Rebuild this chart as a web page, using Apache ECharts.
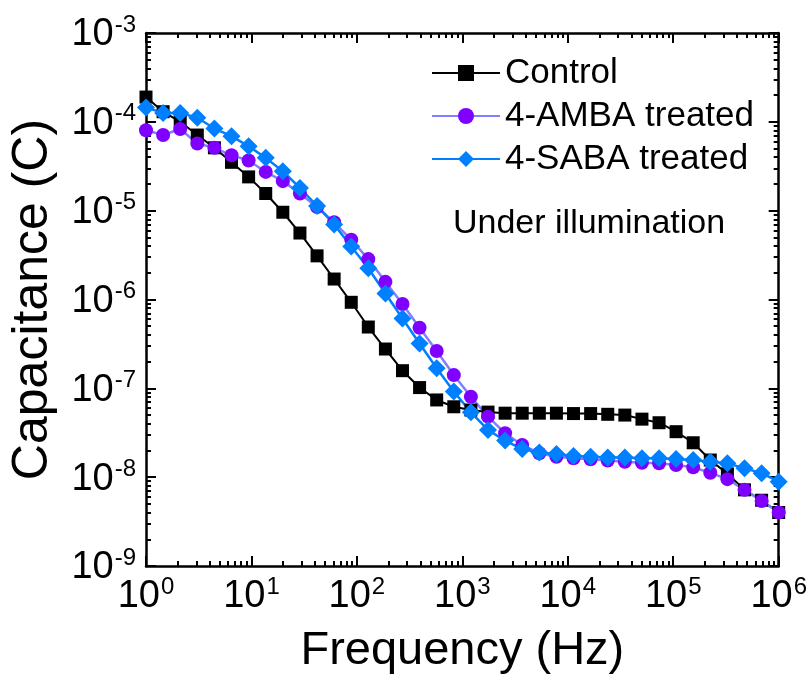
<!DOCTYPE html>
<html>
<head>
<meta charset="utf-8">
<script src="https://cdn.jsdelivr.net/npm/echarts@6/dist/echarts.min.js"></script>
<style>html,body{margin:0;padding:0;background:#fff}#c{width:810px;height:688px}</style>
</head>
<body>
<div id="c"></div>
<script>
const frequency = [1, 1.453, 2.111, 3.066, 4.454, 6.471, 9.402, 13.66, 19.84, 28.83, 41.89, 60.85, 88.41, 128.3, 186.4, 270.6, 393.0, 571.1, 829.7, 1205, 1751, 2544, 3696, 5370, 7801, 11334, 16466, 23922, 34754, 50491, 73354, 106420, 154620, 224550, 326290, 474020, 688660, 1000000];
const control = [1.9e-4, 1.3e-4, 1.0e-4, 7.1e-5, 5.1e-5, 3.5e-5, 2.4e-5, 1.56e-5, 9.6e-6, 5.6e-6, 3.1e-6, 1.7e-6, 9.3e-7, 4.9e-7, 2.77e-7, 1.58e-7, 1.02e-7, 7.4e-8, 6.2e-8, 5.7e-8, 5.4e-8, 5.25e-8, 5.25e-8, 5.25e-8, 5.25e-8, 5.2e-8, 5.2e-8, 5.1e-8, 5.0e-8, 4.5e-8, 4.1e-8, 3.25e-8, 2.44e-8, 1.56e-8, 1.09e-8, 7.2e-9, 5.5e-9, 4.0e-9];
const amba = [8.05e-5, 7.1e-5, 8.3e-5, 5.7e-5, 5.1e-5, 4.2e-5, 3.67e-5, 2.73e-5, 2.15e-5, 1.56e-5, 1.1e-5, 7.4e-6, 4.7e-6, 2.85e-6, 1.58e-6, 8.9e-7, 4.8e-7, 2.63e-7, 1.41e-7, 8.05e-8, 4.8e-8, 3.12e-8, 2.3e-8, 1.86e-8, 1.7e-8, 1.63e-8, 1.59e-8, 1.54e-8, 1.49e-8, 1.45e-8, 1.43e-8, 1.37e-8, 1.29e-8, 1.12e-8, 9.5e-9, 7.2e-9, 5.4e-9, 4.0e-9];
const saba = [1.45e-4, 1.26e-4, 1.26e-4, 1.11e-4, 8.4e-5, 6.9e-5, 5.3e-5, 3.93e-5, 2.78e-5, 1.8e-5, 1.13e-5, 7.0e-6, 3.95e-6, 2.25e-6, 1.17e-6, 6.1e-7, 3.2e-7, 1.68e-7, 9.2e-8, 5.37e-8, 3.4e-8, 2.58e-8, 2.07e-8, 1.89e-8, 1.82e-8, 1.73e-8, 1.7e-8, 1.67e-8, 1.66e-8, 1.63e-8, 1.63e-8, 1.6e-8, 1.56e-8, 1.49e-8, 1.43e-8, 1.26e-8, 1.11e-8, 8.9e-9];
const seriesNames = ['Control', '4-AMBA treated', '4-SABA treated'];
const xMajor = [1, 10, 100, 1000, 10000, 100000, 1000000];
const yMajor = [1e-9, 1e-8, 1e-7, 1e-6, 1e-5, 1e-4, 1e-3];
const annotation = 'Under illumination';
const xTitle = 'Frequency (Hz)';
const yTitle = 'Capacitance (C)';

function minorsOf(majors) {
  const out = [];
  for (let k = 0; k < majors.length - 1; k++) {
    for (let m = 2; m <= 9; m++) out.push(majors[k] * m);
  }
  return out;
}
const xMinor = minorsOf(xMajor);
const yMinor = minorsOf(yMajor);

const FONT = 'Liberation Sans, Arial, sans-serif';
const rich = {
  b: { fontFamily: FONT, fontSize: 38, color: '#000', lineHeight: 42, verticalAlign: 'bottom' },
  s: { fontFamily: FONT, fontSize: 24, color: '#000', lineHeight: 42, verticalAlign: 'bottom', padding: [0, 0, 17, 1] }
};
function expLabel(v) {
  const e = Math.round(Math.log10(v));
  return '{b|10}{s|' + e + '}';
}
const lineStyleAxis = { color: '#000', width: 2.5 };

function makeAxis(pos, isX, major, minor, min, max, withLabels, withLine) {
  return {
    type: 'log', logBase: 10, min: min, max: max, position: pos,
    axisLine: { show: withLine, onZero: false, lineStyle: lineStyleAxis },
    axisTick: { show: true, inside: true, length: major ? 10 : 5, lineStyle: { color: '#000', width: 2 },
      customValues: major || minor },
    axisLabel: withLabels ? { show: true, customValues: major, formatter: expLabel, rich: rich, margin: isX ? 8 : 10 } : { show: false },
    splitLine: { show: false },
    minorTick: { show: false }
  };
}

const chart = echarts.init(document.getElementById('c'), null, { renderer: 'canvas' });
const xAxes = [
  Object.assign(makeAxis('bottom', true, xMajor, null, 1, 1e6, true, true), {
    name: xTitle, nameLocation: 'middle', nameGap: 62,
    nameTextStyle: { fontFamily: FONT, fontSize: 47, color: '#000' }
  }),
  makeAxis('bottom', true, null, xMinor, 1, 1e6, false, false),
  makeAxis('top', true, xMajor, null, 1, 1e6, false, true),
  makeAxis('top', true, null, xMinor, 1, 1e6, false, false)
];
const yAxes = [
  Object.assign(makeAxis('left', false, yMajor, null, 1e-9, 1e-3, true, true), {
    name: yTitle, nameLocation: 'middle', nameGap: 88,
    nameTextStyle: { fontFamily: FONT, fontSize: 50, color: '#000' }
  }),
  makeAxis('left', false, null, yMinor, 1e-9, 1e-3, false, false),
  makeAxis('right', false, yMajor, null, 1e-9, 1e-3, false, true),
  makeAxis('right', false, null, yMinor, 1e-9, 1e-3, false, false)
];

function pairs(ys) { return frequency.map((f, i) => [f, ys[i]]); }

chart.setOption({
  animation: false,
  backgroundColor: '#fff',
  grid: { left: 139, right: 29, top: 33, bottom: 122, containLabel: false },
  xAxis: xAxes,
  yAxis: yAxes,
  legend: {
    orient: 'vertical', left: 426, top: 50,
    itemWidth: 68, itemHeight: 20, itemGap: 7,
    textStyle: { fontFamily: FONT, fontSize: 35, color: '#000', lineHeight: 36 },
    data: seriesNames
  },
  graphic: [{
    type: 'text', left: 453, top: 207,
    style: { text: annotation, font: '34px ' + FONT, fill: '#000' }
  }],
  series: [
    { name: seriesNames[0], type: 'line', data: pairs(control), symbol: 'rect', symbolSize: 13,
      itemStyle: { color: '#000' }, lineStyle: { color: '#000', width: 2 } },
    { name: seriesNames[1], type: 'line', data: pairs(amba), symbol: 'circle', symbolSize: 14,
      itemStyle: { color: '#7f00ff' }, lineStyle: { color: '#8080ff', width: 2.5 } },
    { name: seriesNames[2], type: 'line', data: pairs(saba), symbol: 'diamond', symbolSize: 18,
      itemStyle: { color: '#0080ff' }, lineStyle: { color: '#0080ff', width: 2.5 } }
  ]
});
</script>
</body>
</html>
